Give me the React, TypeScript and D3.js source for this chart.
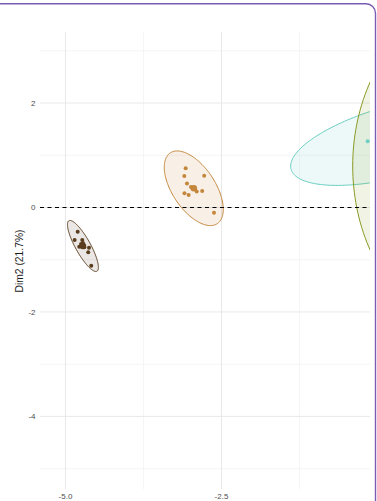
import React from "react";
import * as d3 from "d3";

// Individual coordinates on the first two principal dimensions, per group
const groupNames = ["G1", "G2", "G3", "G4"];
const groupColors = ["#5a3d1e", "#c4863a", "#6ccfc2", "#8b9a24"];

const g1X = [-4.804, -4.853, -4.731, -4.779, -4.699, -4.623, -4.635, -4.587, -4.75, -4.72];
const g1Y = [-0.464, -0.623, -0.623, -0.751, -0.762, -0.77, -0.858, -1.115, -0.7, -0.68];
const g2X = [-3.074, -3.096, -2.777, -3.053, -2.897, -2.809, -3.093, -3.026, -2.62, -2.989, -2.925];
const g2Y = [0.75, 0.603, 0.609, 0.459, 0.306, 0.316, 0.272, 0.239, -0.101, 0.393, 0.354];
const g3X = [-0.157];
const g3Y = [1.267];
const g4X: number[] = [];
const g4Y: number[] = [];

// Group means and covariance terms used for the 95% normal ellipses
const meanX = [-4.72, -2.944, 0.361, 1.686];
const meanY = [-0.737, 0.368, 1.292, 0.794];
const covXX = [0.01025, 0.03729, 0.5126, 0.7245];
const covXY = [-0.01689, -0.03175, 0.1464, 0];
const covYY = [0.03983, 0.0853, 0.1261, 1.726];
const chi2Level95 = 5.991;

const yMajor = [2, 0, -2, -4];
const yMinor = [3, 1, -1, -3, -5];
const xMajor = [-5, -2.5];
const xMinor = [-3.75, -1.25];
const yTitle = "Dim2 (21.7%)";

const W = 377;
const H = 501;
const panelLeft = 40;
const panelRight = 370;
const panelTop = 32;
const panelBottom = 489;

export default function App() {
  const x = d3.scaleLinear().domain([-5.4, 0]).range([40.5, 377.5]);
  const y = d3.scaleLinear().domain([-5.39, 3.36]).range([489, 32]);

  const pts = [
    { xs: g1X, ys: g1Y },
    { xs: g2X, ys: g2Y },
    { xs: g3X, ys: g3Y },
    { xs: g4X, ys: g4Y },
  ];

  const line = d3
    .line<[number, number]>()
    .x((d) => x(d[0]))
    .y((d) => y(d[1]))
    .curve(d3.curveLinearClosed);

  const ellipse = (i: number) => {
    const sxx = covXX[i] * chi2Level95;
    const sxy = covXY[i] * chi2Level95;
    const syy = covYY[i] * chi2Level95;
    const l11 = Math.sqrt(sxx);
    const l21 = sxy / l11;
    const l22 = Math.sqrt(Math.max(syy - l21 * l21, 0));
    const ring: [number, number][] = d3.range(0, 200).map((k) => {
      const t = (k / 200) * Math.PI * 2;
      return [meanX[i] + l11 * Math.cos(t), meanY[i] + l21 * Math.cos(t) + l22 * Math.sin(t)];
    });
    return line(ring) || "";
  };

  const font = "'Liberation Sans', Arial, Helvetica, sans-serif";

  return (
    <svg
      width={W}
      height={H}
      style={{ position: "absolute", left: 0, top: 0, background: "#fff" }}
      fontFamily={font}
    >
      <defs>
        <clipPath id="panel-clip">
          <rect x={panelLeft} y={panelTop - 5} width={panelRight - panelLeft} height={panelBottom - panelTop + 10} />
        </clipPath>
      </defs>

      {/* grid */}
      <g>
        {yMinor.map((v) => (
          <line key={"ym" + v} x1={panelLeft} x2={panelRight} y1={y(v)} y2={y(v)} stroke="#f2f2f2" strokeWidth={0.8} />
        ))}
        {xMinor.map((v) => (
          <line key={"xm" + v} x1={x(v)} x2={x(v)} y1={panelTop} y2={panelBottom} stroke="#f2f2f2" strokeWidth={0.8} />
        ))}
        {yMajor.map((v) => (
          <line key={"yM" + v} x1={panelLeft} x2={panelRight} y1={y(v)} y2={y(v)} stroke="#e8e8e8" strokeWidth={1} />
        ))}
        {xMajor.map((v) => (
          <line key={"xM" + v} x1={x(v)} x2={x(v)} y1={panelTop} y2={panelBottom} stroke="#e8e8e8" strokeWidth={1} />
        ))}
      </g>

      <g clipPath="url(#panel-clip)">
        {groupNames.map((g, i) => (
          <path
            key={"e" + g}
            d={ellipse(i)}
            fill={groupColors[i]}
            fillOpacity={0.12}
            stroke={groupColors[i]}
            strokeWidth={1}
          />
        ))}
        {groupNames.map((g, i) =>
          pts[i].xs.map((v, j) => (
            <circle key={g + j} cx={x(v)} cy={y(pts[i].ys[j])} r={2} fill={groupColors[i]} />
          ))
        )}
        {groupNames.map((g, i) => (
          <circle key={"c" + g} cx={x(meanX[i])} cy={y(meanY[i])} r={3.3} fill={groupColors[i]} />
        ))}
        <line
          x1={panelLeft}
          x2={panelRight}
          y1={y(0)}
          y2={y(0)}
          stroke="#000"
          strokeWidth={1.1}
          strokeDasharray="4 3.5"
        />
      </g>

      {/* axis labels */}
      {yMajor.map((v) => (
        <text key={"yt" + v} x={35.5} y={y(v)} dy="0.35em" textAnchor="end" fontSize={8} fill="#4d4d4d">
          {String(v)}
        </text>
      ))}
      {xMajor.map((v) => (
        <text key={"xt" + v} x={x(v)} y={498.5} textAnchor="middle" fontSize={8} fill="#4d4d4d">
          {v.toFixed(1)}
        </text>
      ))}
      <text
        transform={`translate(23,261) rotate(-90)`}
        textAnchor="middle"
        fontSize={10.3}
        fill="#1a1a1a"
      >
        {yTitle}
      </text>

      {/* frame */}
      <path
        d="M0,3.8 H366 A9.5,9.5 0 0 1 375.5,13.3 V501"
        fill="none"
        stroke="#7a5cb3"
        strokeWidth={1.4}
      />
    </svg>
  );
}
